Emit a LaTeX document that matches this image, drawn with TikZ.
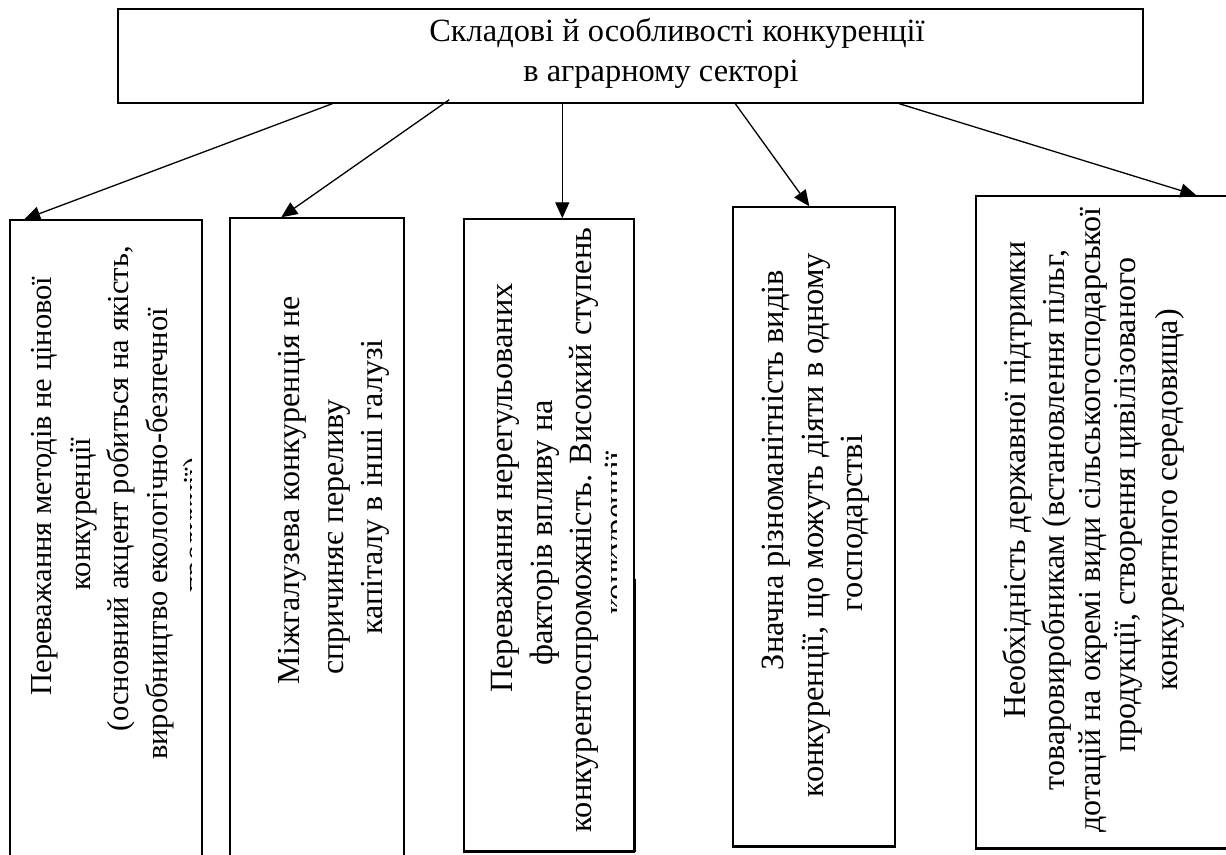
\documentclass[tikz,border=0pt]{standalone}
\usepackage{fontspec}
\setmainfont{Liberation Serif}
\usetikzlibrary{arrows.meta}
\begin{document}
\begin{tikzpicture}[x=1pt,y=-1pt,
  box/.style={draw, line width=1.4pt, inner sep=0pt, fill=none},
  ln/.style={anchor=base, rotate=90, inner sep=0pt},
  fa/.style={font=\fontsize{30.5}{36}\selectfont},
  fb/.style={font=\fontsize{32}{38}\selectfont},
  fc/.style={font=\fontsize{32.4}{38}\selectfont},
  arr/.style={line width=1.3pt, -{Triangle[length=16pt,width=14pt]}},
  thick edge/.style={line width=2.6pt}]
\useasboundingbox (0,0) rectangle (1226,854);
\clip (0,0) rectangle (1226,854);
\fill[white] (0,0) rectangle (1226,854);

% title
\node[box, minimum width=1025pt, minimum height=94pt] (title) at (630.5,56) {};
\node[fc, anchor=base, inner sep=0pt] (tt1) at (677,41) {Складові й особливості конкуренції};
\node[fc, anchor=base, inner sep=0pt] (tt2) at (661,81) {в аграрному секторі};

% boxes
\node[box, minimum width=192pt, minimum height=660pt] (b1) at (106,550) {};
\node[box, minimum width=174pt, minimum height=662pt] (b2) at (317,549) {};
\node[box, minimum width=170pt, minimum height=632pt] (b3) at (549,535) {};
\node[box, minimum width=162pt, minimum height=639pt] (b4) at (814,526.5) {};
\node[box, minimum width=284pt, minimum height=652pt] (b5) at (1118,522) {};

\draw[thick edge] (b3.south west) -- (b3.south east);
\draw[thick edge] ([yshift=273pt]b3.south east) -- (b3.south east);
\draw[thick edge] (b4.south west) -- (b4.south east);
\draw[thick edge] (b5.south west) -- (b5.south east);

% box 1
\begin{scope}
\clip (10,220) rectangle (191,854);
\node[ln, fa] (t1a) at (51,486) {Переважання методів не цінової};
\node[ln, fa] (t1b) at (90,514) {конкуренції};
\node[ln, fa] (t1c) at (128,489) {(основний акцент робиться на якість,};
\node[ln, fa] (t1d) at (167,534) {виробництво екологічно-безпечної};
\node[ln, fa] (t1e) at (204,525) {продукції)};
\end{scope}
% box 2
\node[ln, fb] (t2a) at (299,490) {Міжгалузева конкуренція не};
\node[ln, fb] (t2b) at (343,537) {спричиняє переливу};
\node[ln, fb] (t2c) at (382,487) {капіталу в інші галузі};
% box 3
\begin{scope}
\clip (464,219) rectangle (616,851);
\node[ln, fc] (t3a) at (512.5,488) {Переважання нерегульованих};
\node[ln, fc] (t3b) at (552.5,533) {факторів впливу на};
\node[ln, fc] (t3c) at (591.5,530) {конкурентоспроможність. Високий ступень};
\node[ln, fc] (t3d) at (626.5,533) {конкуренції};
\end{scope}
% box 4
\node[ln, fc] (t4a) at (783.5,470) {Значна різноманітність видів};
\node[ln, fc] (t4b) at (823.5,525) {конкуренції, що можуть діяти в одному};
\node[ln, fc] (t4c) at (862.5,523) {господарстві};
% box 5
\node[ln, fb] (t5a) at (1025,480) {Необхідність державної підтримки};
\node[ln, fb] (t5b) at (1064,520) {товаровиробникам (встановлення пільг,};
\node[ln, fb] (t5c) at (1100,520) {дотацій на окремі види сільськогосподарської};
\node[ln, fb] (t5d) at (1135,505) {продукції, створення цивілізованого};
\node[ln, fb] (t5e) at (1177,500) {конкурентного середовища)};

% arrows
\draw[arr] ([xshift=215pt]title.south west) -- ([xshift=15pt]b1.north west);
\draw[arr] ([xshift=332pt,yshift=4pt]title.south west) -- ([xshift=52pt]b2.north west);
\draw[arr] ([xshift=445pt]title.south west) -- ([xshift=99pt]b3.north west);
\draw[arr] ([xshift=618pt]title.south west) -- ([xshift=77pt]b4.north west);
\draw[arr] ([xshift=782pt]title.south west) -- ([xshift=221pt]b5.north west);
\end{tikzpicture}
\end{document}
